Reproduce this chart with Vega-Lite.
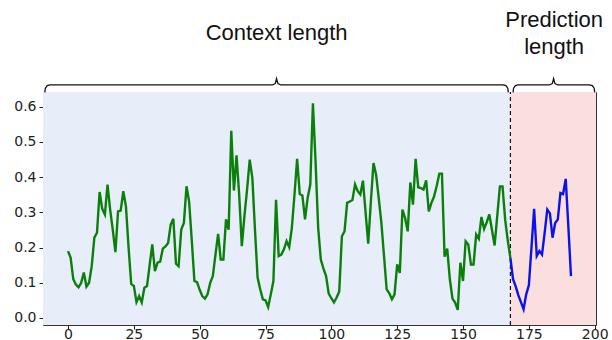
{
  "$schema": "https://vega.github.io/schema/vega-lite/v6.json",
  "width": 553,
  "height": 233,
  "autosize": {"type": "none"},
  "padding": {"left": 43, "top": 92, "right": 16, "bottom": 15},
  "background": "white",
  "config": {
    "view": {"stroke": "#333333", "strokeWidth": 1},
    "axis": {
      "labelFont": "DejaVu Sans",
      "labelFontSize": 14,
      "labelColor": "#222222",
      "tickColor": "#222222",
      "tickSize": 4,
      "domain": false,
      "grid": false,
      "labelOverlap": false
    }
  },
  "datasets": {
    "regions": [
      {"start": -9.5, "end": 168, "region": "context"},
      {"start": 168, "end": 200.5, "region": "prediction"}
    ],
    "split": [{"t": 168}],
    "series": [
      {"t": 0, "value": 0.19, "part": "context"},
      {"t": 1, "value": 0.171, "part": "context"},
      {"t": 2, "value": 0.11, "part": "context"},
      {"t": 3, "value": 0.095, "part": "context"},
      {"t": 4, "value": 0.087, "part": "context"},
      {"t": 5, "value": 0.1, "part": "context"},
      {"t": 6, "value": 0.129, "part": "context"},
      {"t": 7, "value": 0.089, "part": "context"},
      {"t": 8, "value": 0.1, "part": "context"},
      {"t": 9, "value": 0.147, "part": "context"},
      {"t": 10, "value": 0.228, "part": "context"},
      {"t": 11, "value": 0.242, "part": "context"},
      {"t": 12, "value": 0.358, "part": "context"},
      {"t": 13, "value": 0.31, "part": "context"},
      {"t": 14, "value": 0.294, "part": "context"},
      {"t": 15, "value": 0.379, "part": "context"},
      {"t": 16, "value": 0.308, "part": "context"},
      {"t": 17, "value": 0.25, "part": "context"},
      {"t": 18, "value": 0.187, "part": "context"},
      {"t": 19, "value": 0.303, "part": "context"},
      {"t": 20, "value": 0.305, "part": "context"},
      {"t": 21, "value": 0.36, "part": "context"},
      {"t": 22, "value": 0.317, "part": "context"},
      {"t": 23, "value": 0.2, "part": "context"},
      {"t": 24, "value": 0.097, "part": "context"},
      {"t": 25, "value": 0.091, "part": "context"},
      {"t": 26, "value": 0.045, "part": "context"},
      {"t": 27, "value": 0.062, "part": "context"},
      {"t": 28, "value": 0.044, "part": "context"},
      {"t": 29, "value": 0.086, "part": "context"},
      {"t": 30, "value": 0.091, "part": "context"},
      {"t": 31, "value": 0.15, "part": "context"},
      {"t": 32, "value": 0.209, "part": "context"},
      {"t": 33, "value": 0.133, "part": "context"},
      {"t": 34, "value": 0.157, "part": "context"},
      {"t": 35, "value": 0.16, "part": "context"},
      {"t": 36, "value": 0.197, "part": "context"},
      {"t": 37, "value": 0.203, "part": "context"},
      {"t": 38, "value": 0.213, "part": "context"},
      {"t": 39, "value": 0.265, "part": "context"},
      {"t": 40, "value": 0.282, "part": "context"},
      {"t": 41, "value": 0.154, "part": "context"},
      {"t": 42, "value": 0.147, "part": "context"},
      {"t": 43, "value": 0.251, "part": "context"},
      {"t": 44, "value": 0.27, "part": "context"},
      {"t": 45, "value": 0.374, "part": "context"},
      {"t": 46, "value": 0.33, "part": "context"},
      {"t": 47, "value": 0.22, "part": "context"},
      {"t": 48, "value": 0.105, "part": "context"},
      {"t": 49, "value": 0.102, "part": "context"},
      {"t": 50, "value": 0.08, "part": "context"},
      {"t": 51, "value": 0.062, "part": "context"},
      {"t": 52, "value": 0.055, "part": "context"},
      {"t": 53, "value": 0.067, "part": "context"},
      {"t": 54, "value": 0.1, "part": "context"},
      {"t": 55, "value": 0.119, "part": "context"},
      {"t": 56, "value": 0.18, "part": "context"},
      {"t": 57, "value": 0.239, "part": "context"},
      {"t": 58, "value": 0.166, "part": "context"},
      {"t": 59, "value": 0.166, "part": "context"},
      {"t": 60, "value": 0.28, "part": "context"},
      {"t": 61, "value": 0.251, "part": "context"},
      {"t": 62, "value": 0.532, "part": "context"},
      {"t": 63, "value": 0.362, "part": "context"},
      {"t": 64, "value": 0.462, "part": "context"},
      {"t": 65, "value": 0.35, "part": "context"},
      {"t": 66, "value": 0.204, "part": "context"},
      {"t": 67, "value": 0.29, "part": "context"},
      {"t": 68, "value": 0.365, "part": "context"},
      {"t": 69, "value": 0.45, "part": "context"},
      {"t": 70, "value": 0.398, "part": "context"},
      {"t": 71, "value": 0.25, "part": "context"},
      {"t": 72, "value": 0.114, "part": "context"},
      {"t": 73, "value": 0.081, "part": "context"},
      {"t": 74, "value": 0.053, "part": "context"},
      {"t": 75, "value": 0.05, "part": "context"},
      {"t": 76, "value": 0.031, "part": "context"},
      {"t": 77, "value": 0.067, "part": "context"},
      {"t": 78, "value": 0.105, "part": "context"},
      {"t": 79, "value": 0.336, "part": "context"},
      {"t": 80, "value": 0.176, "part": "context"},
      {"t": 81, "value": 0.18, "part": "context"},
      {"t": 82, "value": 0.195, "part": "context"},
      {"t": 83, "value": 0.218, "part": "context"},
      {"t": 84, "value": 0.201, "part": "context"},
      {"t": 85, "value": 0.256, "part": "context"},
      {"t": 86, "value": 0.35, "part": "context"},
      {"t": 87, "value": 0.452, "part": "context"},
      {"t": 88, "value": 0.352, "part": "context"},
      {"t": 89, "value": 0.348, "part": "context"},
      {"t": 90, "value": 0.28, "part": "context"},
      {"t": 91, "value": 0.341, "part": "context"},
      {"t": 92, "value": 0.379, "part": "context"},
      {"t": 93, "value": 0.61, "part": "context"},
      {"t": 94, "value": 0.445, "part": "context"},
      {"t": 95, "value": 0.256, "part": "context"},
      {"t": 96, "value": 0.166, "part": "context"},
      {"t": 97, "value": 0.14, "part": "context"},
      {"t": 98, "value": 0.119, "part": "context"},
      {"t": 99, "value": 0.069, "part": "context"},
      {"t": 100, "value": 0.056, "part": "context"},
      {"t": 101, "value": 0.044, "part": "context"},
      {"t": 102, "value": 0.058, "part": "context"},
      {"t": 103, "value": 0.075, "part": "context"},
      {"t": 104, "value": 0.232, "part": "context"},
      {"t": 105, "value": 0.246, "part": "context"},
      {"t": 106, "value": 0.327, "part": "context"},
      {"t": 107, "value": 0.331, "part": "context"},
      {"t": 108, "value": 0.335, "part": "context"},
      {"t": 109, "value": 0.379, "part": "context"},
      {"t": 110, "value": 0.36, "part": "context"},
      {"t": 111, "value": 0.351, "part": "context"},
      {"t": 112, "value": 0.39, "part": "context"},
      {"t": 113, "value": 0.3, "part": "context"},
      {"t": 114, "value": 0.211, "part": "context"},
      {"t": 115, "value": 0.33, "part": "context"},
      {"t": 116, "value": 0.44, "part": "context"},
      {"t": 117, "value": 0.407, "part": "context"},
      {"t": 118, "value": 0.34, "part": "context"},
      {"t": 119, "value": 0.27, "part": "context"},
      {"t": 120, "value": 0.176, "part": "context"},
      {"t": 121, "value": 0.081, "part": "context"},
      {"t": 122, "value": 0.07, "part": "context"},
      {"t": 123, "value": 0.053, "part": "context"},
      {"t": 124, "value": 0.067, "part": "context"},
      {"t": 125, "value": 0.152, "part": "context"},
      {"t": 126, "value": 0.128, "part": "context"},
      {"t": 127, "value": 0.308, "part": "context"},
      {"t": 128, "value": 0.284, "part": "context"},
      {"t": 129, "value": 0.246, "part": "context"},
      {"t": 130, "value": 0.385, "part": "context"},
      {"t": 131, "value": 0.322, "part": "context"},
      {"t": 132, "value": 0.452, "part": "context"},
      {"t": 133, "value": 0.371, "part": "context"},
      {"t": 134, "value": 0.369, "part": "context"},
      {"t": 135, "value": 0.365, "part": "context"},
      {"t": 136, "value": 0.391, "part": "context"},
      {"t": 137, "value": 0.303, "part": "context"},
      {"t": 138, "value": 0.327, "part": "context"},
      {"t": 139, "value": 0.345, "part": "context"},
      {"t": 140, "value": 0.375, "part": "context"},
      {"t": 141, "value": 0.41, "part": "context"},
      {"t": 142, "value": 0.41, "part": "context"},
      {"t": 143, "value": 0.174, "part": "context"},
      {"t": 144, "value": 0.197, "part": "context"},
      {"t": 145, "value": 0.11, "part": "context"},
      {"t": 146, "value": 0.055, "part": "context"},
      {"t": 147, "value": 0.044, "part": "context"},
      {"t": 148, "value": 0.023, "part": "context"},
      {"t": 149, "value": 0.157, "part": "context"},
      {"t": 150, "value": 0.105, "part": "context"},
      {"t": 151, "value": 0.218, "part": "context"},
      {"t": 152, "value": 0.209, "part": "context"},
      {"t": 153, "value": 0.152, "part": "context"},
      {"t": 154, "value": 0.152, "part": "context"},
      {"t": 155, "value": 0.237, "part": "context"},
      {"t": 156, "value": 0.225, "part": "context"},
      {"t": 157, "value": 0.287, "part": "context"},
      {"t": 158, "value": 0.253, "part": "context"},
      {"t": 159, "value": 0.272, "part": "context"},
      {"t": 160, "value": 0.294, "part": "context"},
      {"t": 161, "value": 0.25, "part": "context"},
      {"t": 162, "value": 0.206, "part": "context"},
      {"t": 163, "value": 0.29, "part": "context"},
      {"t": 164, "value": 0.374, "part": "context"},
      {"t": 165, "value": 0.374, "part": "context"},
      {"t": 166, "value": 0.28, "part": "context"},
      {"t": 167, "value": 0.22, "part": "context"},
      {"t": 168, "value": 0.17, "part": "context"},
      {"t": 168, "value": 0.17, "part": "prediction"},
      {"t": 169, "value": 0.11, "part": "prediction"},
      {"t": 170, "value": 0.09, "part": "prediction"},
      {"t": 171, "value": 0.065, "part": "prediction"},
      {"t": 172, "value": 0.045, "part": "prediction"},
      {"t": 173, "value": 0.025, "part": "prediction"},
      {"t": 174, "value": 0.067, "part": "prediction"},
      {"t": 175, "value": 0.093, "part": "prediction"},
      {"t": 176, "value": 0.2, "part": "prediction"},
      {"t": 177, "value": 0.31, "part": "prediction"},
      {"t": 178, "value": 0.176, "part": "prediction"},
      {"t": 179, "value": 0.19, "part": "prediction"},
      {"t": 180, "value": 0.18, "part": "prediction"},
      {"t": 181, "value": 0.242, "part": "prediction"},
      {"t": 182, "value": 0.308, "part": "prediction"},
      {"t": 183, "value": 0.297, "part": "prediction"},
      {"t": 184, "value": 0.228, "part": "prediction"},
      {"t": 185, "value": 0.27, "part": "prediction"},
      {"t": 186, "value": 0.28, "part": "prediction"},
      {"t": 187, "value": 0.355, "part": "prediction"},
      {"t": 188, "value": 0.352, "part": "prediction"},
      {"t": 189, "value": 0.395, "part": "prediction"},
      {"t": 190, "value": 0.26, "part": "prediction"},
      {"t": 191, "value": 0.119, "part": "prediction"}
    ],
    "braces": [
      {"brace": "context", "o": 1, "x": -8.8, "y": 0.641},
      {"brace": "context", "o": 2, "x": -8.6, "y": 0.653},
      {"brace": "context", "o": 3, "x": -7.9, "y": 0.660},
      {"brace": "context", "o": 4, "x": -6.8, "y": 0.662},
      {"brace": "context", "o": 5, "x": 77.6, "y": 0.662},
      {"brace": "context", "o": 6, "x": 78.7, "y": 0.666},
      {"brace": "context", "o": 7, "x": 79.2, "y": 0.680},
      {"brace": "context", "o": 8, "x": 79.7, "y": 0.666},
      {"brace": "context", "o": 9, "x": 80.8, "y": 0.662},
      {"brace": "context", "o": 10, "x": 165.2, "y": 0.662},
      {"brace": "context", "o": 11, "x": 166.3, "y": 0.660},
      {"brace": "context", "o": 12, "x": 167.0, "y": 0.653},
      {"brace": "context", "o": 13, "x": 167.2, "y": 0.641},
      {"brace": "prediction", "o": 1, "x": 169.0, "y": 0.641},
      {"brace": "prediction", "o": 2, "x": 169.2, "y": 0.653},
      {"brace": "prediction", "o": 3, "x": 169.9, "y": 0.660},
      {"brace": "prediction", "o": 4, "x": 171.0, "y": 0.662},
      {"brace": "prediction", "o": 5, "x": 182.8, "y": 0.662},
      {"brace": "prediction", "o": 6, "x": 183.9, "y": 0.666},
      {"brace": "prediction", "o": 7, "x": 184.4, "y": 0.680},
      {"brace": "prediction", "o": 8, "x": 184.9, "y": 0.666},
      {"brace": "prediction", "o": 9, "x": 186.0, "y": 0.662},
      {"brace": "prediction", "o": 10, "x": 198.0, "y": 0.662},
      {"brace": "prediction", "o": 11, "x": 199.1, "y": 0.660},
      {"brace": "prediction", "o": 12, "x": 199.8, "y": 0.653},
      {"brace": "prediction", "o": 13, "x": 200.0, "y": 0.641}
    ],
    "labels": [
      {"x": 79.2, "y": 0.809, "text": "Context length"},
      {"x": 184.6, "y": 0.846, "text": "Prediction"},
      {"x": 184.6, "y": 0.770, "text": "length"}
    ]
  },
  "encoding": {
    "x": {
      "type": "quantitative",
      "scale": {"domain": [-9.5, 200.5], "nice": false, "zero": false},
      "axis": {"title": null, "values": [0, 25, 50, 75, 100, 125, 150, 175, 200], "labelBaseline": "middle", "labelPadding": 5, "labelOverlap": false}
    },
    "y": {
      "type": "quantitative",
      "scale": {"domain": [-0.02, 0.642], "nice": false, "zero": false},
      "axis": {"title": null, "values": [0, 0.1, 0.2, 0.3, 0.4, 0.5, 0.6], "format": ".1f", "labelPadding": 3, "labelOverlap": false, "tickCount": 7}
    }
  },
  "layer": [
    {
      "data": {"name": "regions"},
      "mark": {"type": "rect"},
      "encoding": {
        "x": {"field": "start"},
        "x2": {"field": "end"},
        "y": {"datum": -0.02},
        "y2": {"datum": 0.642},
        "color": {
          "field": "region",
          "type": "nominal",
          "scale": {"domain": ["context", "prediction"], "range": ["#e7eefa", "#fbdede"]},
          "legend": null
        }
      }
    },
    {
      "data": {"name": "split"},
      "mark": {"type": "rule", "color": "#111111", "strokeWidth": 1.2, "strokeDash": [4, 3]},
      "encoding": {
        "x": {"field": "t"},
        "y": {"datum": -0.02},
        "y2": {"datum": 0.642}
      }
    },
    {
      "data": {"name": "series"},
      "transform": [{"filter": "datum.part === 'context'"}],
      "mark": {"type": "line", "color": "#0a800a", "strokeWidth": 2.4},
      "encoding": {
        "x": {"field": "t"},
        "y": {"field": "value"}
      }
    },
    {
      "data": {"name": "series"},
      "transform": [{"filter": "datum.part === 'prediction'"}],
      "mark": {"type": "line", "color": "#0a14e6", "strokeWidth": 2.4},
      "encoding": {
        "x": {"field": "t"},
        "y": {"field": "value"}
      }
    },
    {
      "data": {"name": "braces"},
      "mark": {"type": "line", "color": "#111111", "strokeWidth": 1.3, "clip": false},
      "encoding": {
        "x": {"field": "x"},
        "y": {"field": "y"},
        "detail": {"field": "brace"},
        "order": {"field": "o", "type": "quantitative"}
      }
    },
    {
      "data": {"name": "labels"},
      "mark": {"type": "text", "font": "Liberation Sans", "fontSize": 22, "color": "#111111", "align": "center", "baseline": "middle", "clip": false},
      "encoding": {
        "x": {"field": "x"},
        "y": {"field": "y"},
        "text": {"field": "text"}
      }
    }
  ]
}
